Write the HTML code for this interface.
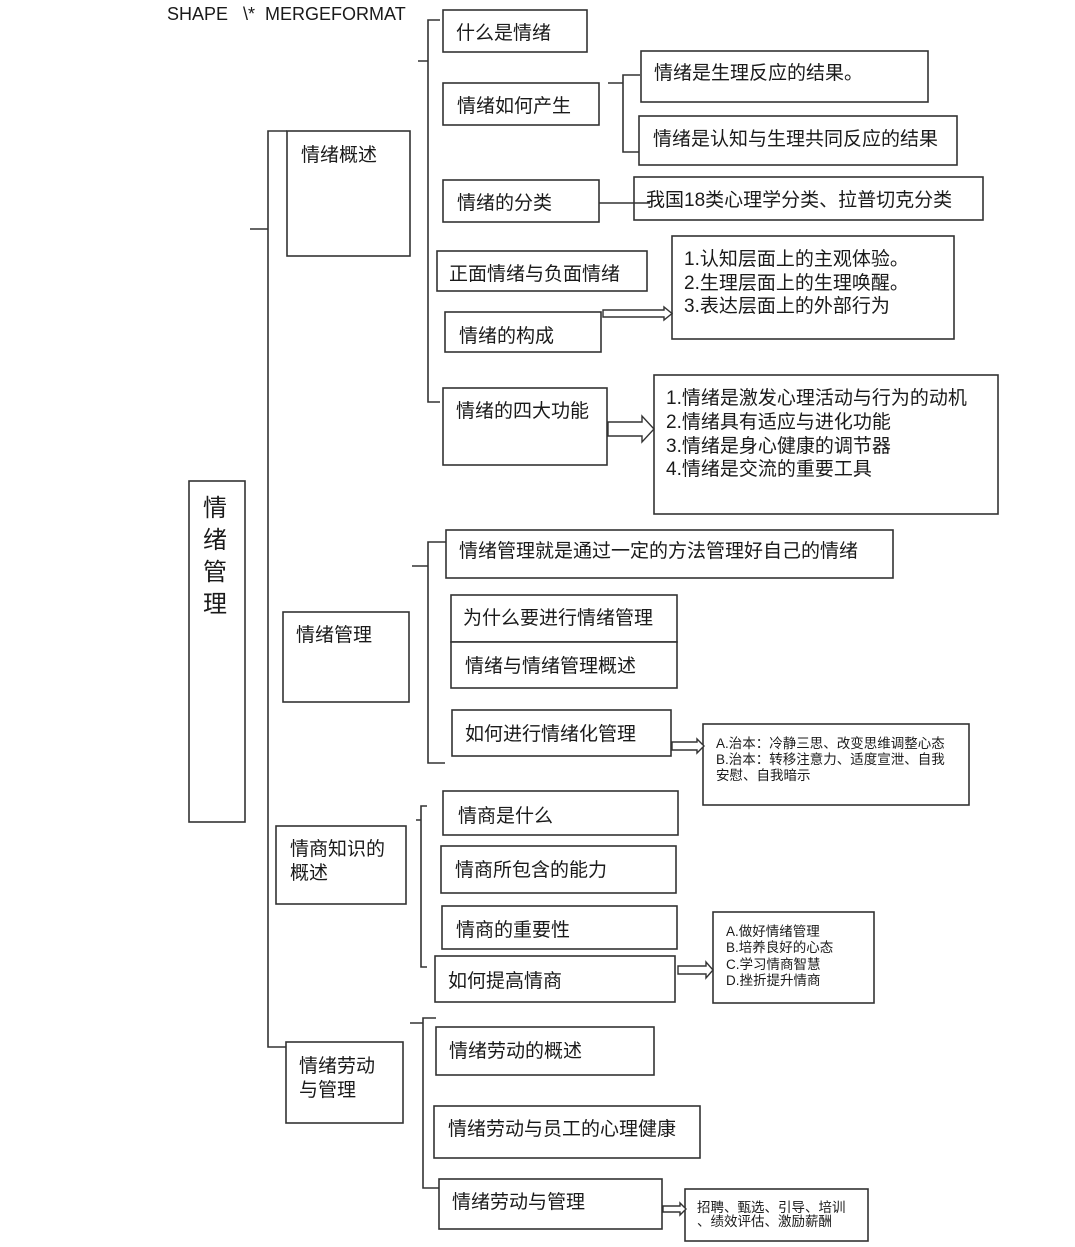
<!DOCTYPE html>
<html><head><meta charset="utf-8"><style>
html,body{margin:0;padding:0;background:#fff;}
svg{display:block;}
text{font-family:"Liberation Sans","Noto Sans CJK SC",sans-serif;fill:#1a1a1a;}
.b{fill:#fff;stroke:#333;stroke-width:1.6;}
.l{fill:none;stroke:#333;stroke-width:1.6;}
.a{fill:#fff;stroke:#333;stroke-width:1.4;}
.t{font-size:19px;}
.s{font-size:13.5px;}
</style></head><body>
<svg width="1075" height="1247" viewBox="0 0 1075 1247" xmlns="http://www.w3.org/2000/svg">
<text x="167" y="20" style="font-size:18px">SHAPE &#160;&#160;\* &#160;MERGEFORMAT</text>

<rect class="b" x="189" y="481" width="56" height="341"/>
<text x="203" y="516" style="font-size:24px">情</text>
<text x="203" y="548" style="font-size:24px">绪</text>
<text x="203" y="580" style="font-size:24px">管</text>
<text x="203" y="612" style="font-size:24px">理</text>

<path class="l" d="M250 229 H268 M287 131 H268 V1047 H286"/>

<rect class="b" x="287" y="131" width="123" height="125"/>
<text class="t" x="301" y="161">情绪概述</text>
<rect class="b" x="283" y="612" width="126" height="90"/>
<text class="t" x="296" y="641">情绪管理</text>
<rect class="b" x="276" y="826" width="130" height="78"/>
<text class="t" x="290" y="855">情商知识的</text>
<text class="t" x="290" y="879">概述</text>
<rect class="b" x="286" y="1042" width="117" height="81"/>
<text class="t" x="299" y="1072">情绪劳动</text>
<text class="t" x="299" y="1096">与管理</text>

<path class="l" d="M418 61 H428 M440 20 H428 V402 H440"/>
<path class="l" d="M412 566 H428 M446 542 H428 V763 H445"/>
<path class="l" d="M416 820 H421 M427 806 H421 V967 H427"/>
<path class="l" d="M410 1023 H423 M436 1018 H423 V1188 H440"/>

<rect class="b" x="443" y="10" width="144" height="42"/>
<text class="t" x="456" y="39">什么是情绪</text>
<rect class="b" x="443" y="83" width="156" height="42"/>
<text class="t" x="457" y="112">情绪如何产生</text>
<rect class="b" x="443" y="180" width="156" height="42"/>
<text class="t" x="457" y="209">情绪的分类</text>
<rect class="b" x="437" y="251" width="210" height="40"/>
<text class="t" x="449" y="280">正面情绪与负面情绪</text>
<rect class="b" x="445" y="312" width="156" height="40"/>
<text class="t" x="459" y="342">情绪的构成</text>
<rect class="b" x="443" y="388" width="164" height="77"/>
<text class="t" x="456" y="417">情绪的四大功能</text>

<path class="l" d="M608 83 H623 M640 75 H623 V152 H640"/>
<rect class="b" x="641" y="51" width="287" height="51"/>
<text class="t" x="654" y="79">情绪是生理反应的结果。</text>
<rect class="b" x="639" y="116" width="318" height="49"/>
<text class="t" x="653" y="145">情绪是认知与生理共同反应的结果</text>

<rect class="b" x="634" y="177" width="349" height="43"/>
<text class="t" x="646" y="206">我国18类心理学分类、拉普切克分类</text>
<path class="l" d="M599 203 H650"/>

<rect class="b" x="672" y="236" width="282" height="103"/>
<text class="t" x="684" y="265">1.认知层面上的主观体验。</text>
<text class="t" x="684" y="289">2.生理层面上的生理唤醒。</text>
<text class="t" x="684" y="312">3.表达层面上的外部行为</text>
<polygon class="a" points="603,310 664,310 664,307 672,313.5 664,320 664,317 603,317"/>

<rect class="b" x="654" y="375" width="344" height="139"/>
<text class="t" x="666" y="404">1.情绪是激发心理活动与行为的动机</text>
<text class="t" x="666" y="428">2.情绪具有适应与进化功能</text>
<text class="t" x="666" y="452">3.情绪是身心健康的调节器</text>
<text class="t" x="666" y="475">4.情绪是交流的重要工具</text>
<polygon class="a" points="608,422 642,422 642,416 654,429 642,442 642,436 608,436"/>

<rect class="b" x="446" y="530" width="447" height="48"/>
<text class="t" x="459" y="557">情绪管理就是通过一定的方法管理好自己的情绪</text>
<rect class="b" x="451" y="595" width="226" height="47"/>
<text class="t" x="463" y="624">为什么要进行情绪管理</text>
<rect class="b" x="451" y="642" width="226" height="46"/>
<text class="t" x="465" y="672">情绪与情绪管理概述</text>
<rect class="b" x="452" y="710" width="219" height="46"/>
<text class="t" x="465" y="740">如何进行情绪化管理</text>
<rect class="b" x="703" y="724" width="266" height="81"/>
<text class="s" x="716" y="748">A.治本：冷静三思、改变思维调整心态</text>
<text class="s" x="716" y="764">B.治本：转移注意力、适度宣泄、自我</text>
<text class="s" x="716" y="780">安慰、自我暗示</text>
<polygon class="a" points="672,742 697,742 697,739 704,746 697,753 697,750 672,750"/>

<rect class="b" x="443" y="791" width="235" height="44"/>
<text class="t" x="458" y="822">情商是什么</text>
<rect class="b" x="441" y="846" width="235" height="47"/>
<text class="t" x="455" y="876">情商所包含的能力</text>
<rect class="b" x="442" y="906" width="235" height="43"/>
<text class="t" x="456" y="936">情商的重要性</text>
<rect class="b" x="435" y="956" width="240" height="46"/>
<text class="t" x="448" y="987">如何提高情商</text>
<rect class="b" x="713" y="912" width="161" height="91"/>
<text class="s" x="726" y="936">A.做好情绪管理</text>
<text class="s" x="726" y="952">B.培养良好的心态</text>
<text class="s" x="726" y="969">C.学习情商智慧</text>
<text class="s" x="726" y="985">D.挫折提升情商</text>
<polygon class="a" points="678,966 706,966 706,962 713,970 706,978 706,974 678,974"/>

<rect class="b" x="436" y="1027" width="218" height="48"/>
<text class="t" x="449" y="1057">情绪劳动的概述</text>
<rect class="b" x="434" y="1106" width="266" height="52"/>
<text class="t" x="448" y="1135">情绪劳动与员工的心理健康</text>
<rect class="b" x="439" y="1179" width="223" height="50"/>
<text class="t" x="452" y="1208">情绪劳动与管理</text>
<rect class="b" x="685" y="1189" width="183" height="52"/>
<text class="s" x="697" y="1212">招聘、甄选、引导、培训</text>
<text class="s" x="697" y="1226">、绩效评估、激励薪酬</text>
<polygon class="a" points="663,1206 680,1206 680,1203 686,1209 680,1215 680,1212 663,1212"/>
</svg>
</body></html>
